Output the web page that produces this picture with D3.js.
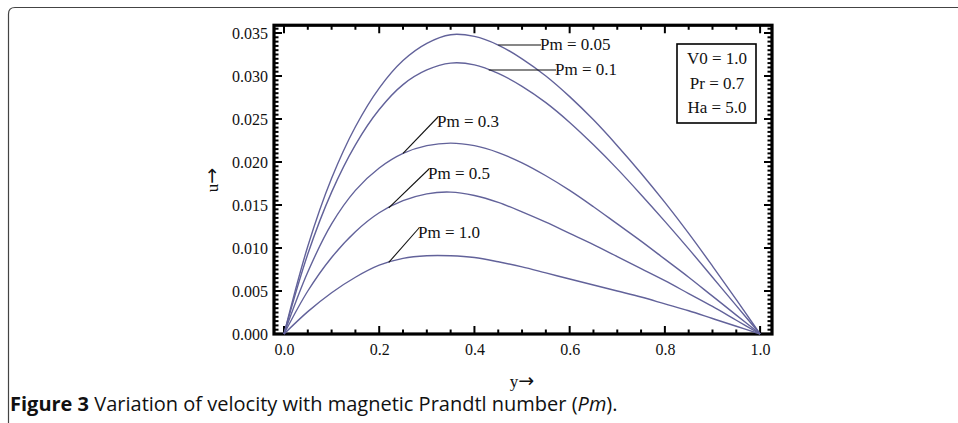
<!DOCTYPE html>
<html>
<head>
<meta charset="utf-8">
<script src="https://cdn.jsdelivr.net/npm/d3@7"></script>
<style>
  html, body { margin: 0; padding: 0; background: #fff; }
  svg { display: block; }
  .tick text { font-family: "Liberation Serif", "Times New Roman", serif; font-size: 16px; fill: #111; }
  .lbl { font-family: "Liberation Serif", "Times New Roman", serif; font-size: 17px; fill: #111; }
  .arrow { font-family: "DejaVu Sans", sans-serif; }
</style>
</head>
<body>
<div id="chart"></div>
<script>
// y positions across the channel
const yPos = [0, 0.05, 0.10, 0.15, 0.20, 0.25, 0.30, 0.35, 0.40, 0.45, 0.50,
              0.55, 0.60, 0.65, 0.70, 0.75, 0.80, 0.85, 0.90, 0.95, 1.00];

// velocity u for each magnetic Prandtl number
const uPm005 = [0, 0.0102, 0.0181, 0.0241, 0.0286, 0.0318, 0.0338, 0.0348, 0.0346, 0.0336, 0.0320,
                0.0300, 0.0276, 0.0249, 0.0219, 0.0187, 0.0153, 0.0117, 0.0079, 0.0040, 0];
const uPm01  = [0, 0.0093, 0.0165, 0.0220, 0.0261, 0.0290, 0.0307, 0.0315, 0.0313, 0.0303, 0.0288,
                0.0269, 0.0246, 0.0220, 0.0192, 0.0162, 0.0131, 0.0099, 0.0066, 0.0033, 0];
const uPm03  = [0, 0.0072, 0.0128, 0.0167, 0.0193, 0.0210, 0.0219, 0.0222, 0.0219, 0.0211, 0.0199,
                0.0184, 0.0167, 0.0148, 0.0128, 0.0108, 0.0087, 0.0066, 0.0044, 0.0022, 0];
const uPm05  = [0, 0.0050, 0.0089, 0.0119, 0.0141, 0.0155, 0.0163, 0.0165, 0.0161, 0.0153, 0.0142,
                0.0130, 0.0117, 0.0104, 0.0090, 0.0076, 0.0062, 0.0047, 0.0032, 0.0016, 0];
const uPm10  = [0, 0.0026, 0.0048, 0.0066, 0.0080, 0.0088, 0.0091, 0.0091, 0.0089, 0.0084, 0.0078,
                0.0071, 0.0064, 0.0057, 0.0050, 0.0043, 0.0035, 0.0027, 0.0018, 0.0009, 0];

const seriesNames = ["Pm = 0.05", "Pm = 0.1", "Pm = 0.3", "Pm = 0.5", "Pm = 1.0"];
const seriesVals = [uPm005, uPm01, uPm03, uPm05, uPm10];
// where each label's pointer touches its curve (y value on the curve)
const pointerAt = [0.45, 0.43, 0.25, 0.22, 0.22];

const xTicks = [0, 0.2, 0.4, 0.6, 0.8, 1.0];
const yTicks = [0, 0.005, 0.010, 0.015, 0.020, 0.025, 0.030, 0.035];
const paramLines = ["V0 = 1.0", "Pr = 0.7", "Ha = 5.0"];

const W = 958, H = 423;
const svg = d3.select("#chart").append("svg").attr("width", W).attr("height", H);

// page frame with rounded corner
svg.append("path")
  .attr("d", "M8.5,423 V14 Q8.5,7.5 15,7.5 H958")
  .attr("fill", "none").attr("stroke", "#444").attr("stroke-width", 1.2);

const x = d3.scaleLinear().domain([-0.021, 1.025]).range([274, 772]);
const y = d3.scaleLinear().domain([0, 0.035]).range([334, 33]);
const yTop = 0.0359;

const fmtY = d3.format(".3f"), fmtX = d3.format(".1f");
const minorX = d3.range(0, 1.0001, 0.05).map(v => +v.toFixed(2));
const minorY = d3.range(0, 0.0356, 0.0005).map(v => +v.toFixed(4));

// ticks on all four sides, pointing inward
const g = svg.append("g");
const tickLine = (x1, y1, x2, y2, w) => g.append("line")
  .attr("x1", x1).attr("y1", y1).attr("x2", x2).attr("y2", y2)
  .attr("stroke", "#000").attr("stroke-width", w);

minorY.forEach(v => {
  const major = yTicks.some(t => Math.abs(t - v) < 1e-6);
  const len = major ? 8 : 4.5;
  tickLine(x(-0.021), y(v), x(-0.021) + len, y(v), 2);
  tickLine(x(1.025), y(v), x(1.025) - len, y(v), 2);
});
minorX.forEach(v => {
  const major = xTicks.some(t => Math.abs(t - v) < 1e-6);
  const len = major ? 8 : 4.5;
  tickLine(x(v), y(0), x(v), y(0) - len, 2);
  tickLine(x(v), y(yTop), x(v), y(yTop) + len, 2);
});

// tick labels through d3 axes (frame drawn separately)
svg.append("g").attr("transform", `translate(${x(-0.021)},0)`)
  .call(d3.axisLeft(y).tickValues(yTicks).tickFormat(fmtY).tickSize(0).tickPadding(6))
  .call(a => a.select(".domain").remove());
svg.append("g").attr("transform", `translate(0,${y(0)})`)
  .call(d3.axisBottom(x).tickValues(xTicks).tickFormat(fmtX).tickSize(0).tickPadding(10))
  .call(a => a.select(".domain").remove());

// frame
svg.append("rect")
  .attr("x", x(-0.021)).attr("y", y(yTop))
  .attr("width", x(1.025) - x(-0.021)).attr("height", y(0) - y(yTop))
  .attr("fill", "none").attr("stroke", "#000").attr("stroke-width", 3.2);

// curves
const line = d3.line().x((d, i) => x(yPos[i])).y(d => y(d)).curve(d3.curveCatmullRom.alpha(0.5));
svg.append("g").selectAll("path").data(seriesVals).join("path")
  .attr("d", line)
  .attr("fill", "none").attr("stroke", "#62629a").attr("stroke-width", 1.4);

// curve labels with pointers
const labelPos = [[540, 45], [555, 68], [437, 122], [428, 174], [418, 233]];
const valueAt = (vals, t) => {
  const i = d3.bisectLeft(yPos, t);
  const i0 = Math.max(0, i - 1), i1 = Math.min(yPos.length - 1, i);
  const f = i1 === i0 ? 0 : (t - yPos[i0]) / (yPos[i1] - yPos[i0]);
  return vals[i0] + f * (vals[i1] - vals[i0]);
};
seriesNames.forEach((name, k) => {
  const [lx, ly] = labelPos[k];
  const px = x(pointerAt[k]), py = y(valueAt(seriesVals[k], pointerAt[k]));
  svg.append("line")
    .attr("x1", px).attr("y1", py).attr("x2", lx + 1).attr("y2", k < 2 ? py : ly - 5)
    .attr("stroke", "#111").attr("stroke-width", 1.1);
  svg.append("text").attr("class", "lbl")
    .attr("x", lx).attr("y", (k < 2 ? py : ly) + 5)
    .text(name);
});

// parameter box
svg.append("rect").attr("x", 677).attr("y", 44).attr("width", 79).attr("height", 79)
  .attr("fill", "#fff").attr("stroke", "#000").attr("stroke-width", 1.6);
svg.selectAll(".param").data(paramLines).join("text")
  .attr("class", "lbl param")
  .attr("x", 717).attr("y", (d, i) => 64 + i * 24.5)
  .attr("text-anchor", "middle")
  .text(d => d);

// axis titles
const uTitle = svg.append("text").attr("class", "lbl")
  .attr("transform", "translate(218,180) rotate(-90)")
  .attr("text-anchor", "middle");
uTitle.append("tspan").text("u");
uTitle.append("tspan").attr("class", "arrow").style("font-size", "19px").text("\u2192");
const yTitle = svg.append("text").attr("class", "lbl")
  .attr("x", 522).attr("y", 387).attr("text-anchor", "middle");
yTitle.append("tspan").text("y");
yTitle.append("tspan").attr("class", "arrow").style("font-size", "19px").text("\u2192");

// caption
const cap = svg.append("text").attr("x", 10).attr("y", 411)
  .style("font-family", "'Open Sans', 'Noto Sans', sans-serif").style("font-size", "20px").attr("fill", "#111");
cap.append("tspan").style("font-weight", "bold").text("Figure 3");
cap.append("tspan").text("  Variation of velocity with magnetic Prandtl number (");
cap.append("tspan").style("font-style", "italic").text("Pm");
cap.append("tspan").text(").");
</script>
</body>
</html>
